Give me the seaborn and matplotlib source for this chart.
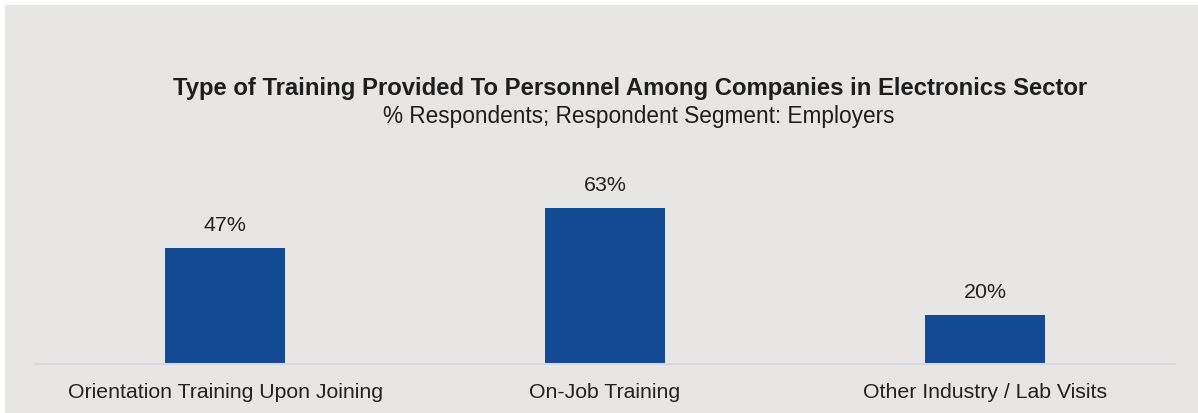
import matplotlib
matplotlib.use("Agg")
import matplotlib.pyplot as plt
import seaborn as sns
import pandas as pd
from matplotlib.patches import Rectangle

categories = ["Orientation Training Upon Joining", "On-Job Training", "Other Industry / Lab Visits"]
values = [47, 63, 20]
value_labels = ["47%", "63%", "20%"]
title = "Type of Training Provided To Personnel Among Companies in Electronics Sector"
subtitle = "% Respondents; Respondent Segment: Employers"

sns.set_theme(style="white")
plt.rcParams['font.family'] = ['Liberation Sans', 'DejaVu Sans']

W, H = 1198, 414
fig = plt.figure(figsize=(W / 100, H / 100), dpi=100)
fig.patch.set_facecolor("white")
bg = "#E7E6E5"
fig.patches.append(Rectangle((5 / W, 0), 1 - 5 / W, 1 - 6 / H, transform=fig.transFigure,
                             facecolor=bg, edgecolor="none", zorder=-10))

ax = fig.add_axes([35 / W, (H - 365) / H, 1140 / W, 198 / H])
ax.set_facecolor("none")
df = pd.DataFrame({"cat": categories, "val": values})
sns.barplot(data=df, x="cat", y="val", color="#124A93", saturation=1, width=0.316,
            edgecolor="none", linewidth=0, ax=ax)
ax.set_ylim(0, 80)
ax.set_xlim(-0.5, 2.5)
for i, (v, lab) in enumerate(zip(values, value_labels)):
    ax.annotate(lab, (i, v), xytext=(0, 10), textcoords="offset points",
                ha="center", va="bottom", fontsize=15.4, color="#222222")
ax.set_xlabel("")
ax.set_ylabel("")
ax.set_yticks([])
for s in ["top", "right", "left"]:
    ax.spines[s].set_visible(False)
ax.spines["bottom"].set_color("#D6D8DF")
ax.spines["bottom"].set_linewidth(1.5)
ax.tick_params(axis="x", length=0, pad=13, labelsize=15.3, labelcolor="#222222")

fig.text(630 / W, 1 - 88 / H, title, ha="center", va="center", fontsize=17.2,
         fontweight="bold", color="#1E1E1E")
fig.text(639 / W, 1 - 116 / H, subtitle, ha="center", va="center", fontsize=16.3,
         color="#1E1E1E")

fig.savefig("out.png", dpi=100, facecolor=fig.get_facecolor())
